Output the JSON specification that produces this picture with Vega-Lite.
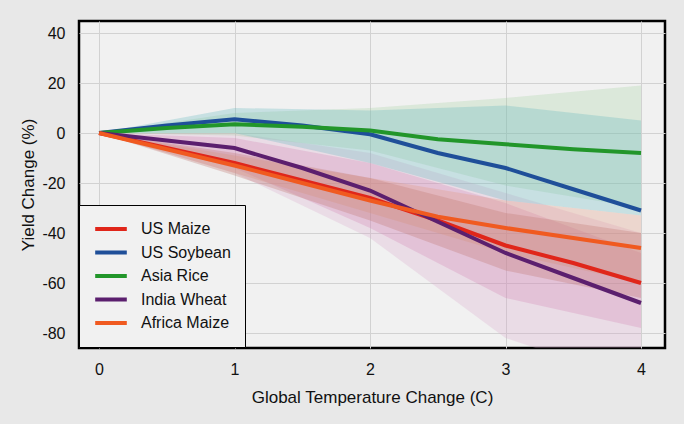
{
  "$schema": "https://vega.github.io/schema/vega-lite/v6.json",
  "autosize": "none",
  "width": 586,
  "height": 327,
  "padding": {"left": 79, "top": 21, "right": 19, "bottom": 76},
  "background": "#e8e8e8",
  "config": {
    "view": {"fill": "#f1f1f1", "stroke": "#000000", "strokeWidth": 2.5},
    "font": "Liberation Sans",
    "legend": {"strokeColor": "#000000", "fillColor": "#f1f1f1", "padding": 14}
  },
  "datasets": {
    "lines": [
      {"s": "US Maize", "t": 0, "y": 0}, {"s": "US Maize", "t": 0.5, "y": -6}, {"s": "US Maize", "t": 1, "y": -12}, {"s": "US Maize", "t": 1.5, "y": -19}, {"s": "US Maize", "t": 2, "y": -26}, {"s": "US Maize", "t": 2.5, "y": -35}, {"s": "US Maize", "t": 3, "y": -45}, {"s": "US Maize", "t": 3.5, "y": -52}, {"s": "US Maize", "t": 4, "y": -60},
      {"s": "US Soybean", "t": 0, "y": 0}, {"s": "US Soybean", "t": 0.5, "y": 3}, {"s": "US Soybean", "t": 1, "y": 5.5}, {"s": "US Soybean", "t": 1.5, "y": 3}, {"s": "US Soybean", "t": 2, "y": -0.5}, {"s": "US Soybean", "t": 2.5, "y": -8}, {"s": "US Soybean", "t": 3, "y": -14}, {"s": "US Soybean", "t": 3.5, "y": -22.5}, {"s": "US Soybean", "t": 4, "y": -31},
      {"s": "Asia Rice", "t": 0, "y": 0}, {"s": "Asia Rice", "t": 0.5, "y": 2}, {"s": "Asia Rice", "t": 1, "y": 3.5}, {"s": "Asia Rice", "t": 1.5, "y": 2.5}, {"s": "Asia Rice", "t": 2, "y": 1}, {"s": "Asia Rice", "t": 2.5, "y": -2.5}, {"s": "Asia Rice", "t": 3, "y": -4.5}, {"s": "Asia Rice", "t": 3.5, "y": -6.5}, {"s": "Asia Rice", "t": 4, "y": -8},
      {"s": "India Wheat", "t": 0, "y": 0}, {"s": "India Wheat", "t": 0.5, "y": -3}, {"s": "India Wheat", "t": 1, "y": -6}, {"s": "India Wheat", "t": 1.5, "y": -14}, {"s": "India Wheat", "t": 2, "y": -23}, {"s": "India Wheat", "t": 2.5, "y": -35.5}, {"s": "India Wheat", "t": 3, "y": -48}, {"s": "India Wheat", "t": 3.5, "y": -58}, {"s": "India Wheat", "t": 4, "y": -68},
      {"s": "Africa Maize", "t": 0, "y": 0}, {"s": "Africa Maize", "t": 0.5, "y": -6.5}, {"s": "Africa Maize", "t": 1, "y": -13}, {"s": "Africa Maize", "t": 1.5, "y": -20}, {"s": "Africa Maize", "t": 2, "y": -27}, {"s": "Africa Maize", "t": 2.5, "y": -33.5}, {"s": "Africa Maize", "t": 3, "y": -38}, {"s": "Africa Maize", "t": 3.5, "y": -42}, {"s": "Africa Maize", "t": 4, "y": -46}
    ],
    "bands": [
      {"b": "Wheat outer", "t": 0, "lo": 0, "hi": 0}, {"b": "Wheat outer", "t": 1, "lo": -16, "hi": 0}, {"b": "Wheat outer", "t": 2, "lo": -42, "hi": -8}, {"b": "Wheat outer", "t": 3, "lo": -82, "hi": -24}, {"b": "Wheat outer", "t": 4, "lo": -100, "hi": -40},
      {"b": "Wheat", "t": 0, "lo": 0, "hi": 0}, {"b": "Wheat", "t": 1, "lo": -14, "hi": -2}, {"b": "Wheat", "t": 2, "lo": -38, "hi": -12}, {"b": "Wheat", "t": 3, "lo": -66, "hi": -28}, {"b": "Wheat", "t": 4, "lo": -78, "hi": -48},
      {"b": "Rice", "t": 0, "lo": 0, "hi": 0}, {"b": "Rice", "t": 1, "lo": -1, "hi": 8}, {"b": "Rice", "t": 2, "lo": -7, "hi": 10}, {"b": "Rice", "t": 3, "lo": -21, "hi": 14}, {"b": "Rice", "t": 4, "lo": -30, "hi": 19},
      {"b": "Soybean", "t": 0, "lo": 0, "hi": 0}, {"b": "Soybean", "t": 1, "lo": 0, "hi": 10}, {"b": "Soybean", "t": 2, "lo": -12, "hi": 9}, {"b": "Soybean", "t": 3, "lo": -27, "hi": 11}, {"b": "Soybean", "t": 4, "lo": -33, "hi": 5},
      {"b": "Africa Maize", "t": 0, "lo": 0, "hi": 0}, {"b": "Africa Maize", "t": 1, "lo": -16, "hi": -9}, {"b": "Africa Maize", "t": 2, "lo": -32, "hi": -18}, {"b": "Africa Maize", "t": 3, "lo": -48, "hi": -27}, {"b": "Africa Maize", "t": 4, "lo": -60, "hi": -33},
      {"b": "US Maize", "t": 0, "lo": 0, "hi": 0}, {"b": "US Maize", "t": 1, "lo": -17, "hi": -8}, {"b": "US Maize", "t": 2, "lo": -35, "hi": -18}, {"b": "US Maize", "t": 3, "lo": -55, "hi": -32}, {"b": "US Maize", "t": 4, "lo": -66, "hi": -40}
    ]
  },
  "layer": [
    {
      "data": {"name": "bands"},
      "mark": {"type": "area", "clip": true},
      "encoding": {
        "x": {"field": "t", "type": "quantitative"},
        "y": {"field": "lo", "type": "quantitative"},
        "y2": {"field": "hi"},
        "color": {
          "field": "b", "type": "nominal", "legend": null,
          "scale": {
            "domain": ["Wheat outer", "Wheat", "Rice", "Soybean", "Africa Maize", "US Maize"],
            "range": ["#d8a0c8", "#d07aae", "#a1d19d", "#60b8bc", "#e09a80", "#c07874"]
          }
        },
        "opacity": {
          "field": "b", "type": "nominal", "legend": null,
          "scale": {
            "domain": ["Wheat outer", "Wheat", "Rice", "Soybean", "Africa Maize", "US Maize"],
            "range": [0.25, 0.32, 0.3, 0.35, 0.35, 0.3]
          }
        }
      }
    },
    {
      "data": {"name": "lines"},
      "mark": {"type": "line", "strokeWidth": 4, "clip": true},
      "encoding": {
        "x": {
          "field": "t", "type": "quantitative",
          "scale": {"domain": [-0.148, 4.177], "nice": false, "zero": false},
          "axis": {
            "values": [0, 1, 2, 3, 4],
            "labelExpr": "'' + datum.value",
            "title": "Global Temperature Change (C)",
            "domain": false, "ticks": false,
            "labelPadding": 13, "labelFontSize": 16, "labelColor": "#111111",
            "titleFontSize": 17, "titleFontWeight": "normal", "titleColor": "#111111", "titlePadding": 12,
            "gridColor": "#d2d2d2", "gridWidth": 1
          }
        },
        "y": {
          "field": "y", "type": "quantitative",
          "scale": {"domain": [-86, 44.8], "nice": false, "zero": false},
          "axis": {
            "values": [40, 20, 0, -20, -40, -60, -80],
            "labelExpr": "'' + datum.value",
            "title": "Yield Change (%)",
            "domain": false, "ticks": false,
            "labelPadding": 14, "labelFontSize": 16, "labelColor": "#111111",
            "titleFontSize": 17, "titleFontWeight": "normal", "titleColor": "#111111", "titlePadding": 4,
            "gridColor": "#d2d2d2", "gridWidth": 1
          }
        },
        "color": {
          "field": "s", "type": "nominal",
          "scale": {
            "domain": ["US Maize", "US Soybean", "Asia Rice", "India Wheat", "Africa Maize"],
            "range": ["#e0261a", "#1f4f99", "#22962a", "#5b1f6e", "#f05a20"]
          },
          "legend": {
            "title": null,
            "orient": "none",
            "legendX": 0,
            "legendY": 184,
            "symbolType": "stroke",
            "symbolSize": 1000,
            "symbolStrokeWidth": 4,
            "clipHeight": 20,
            "rowPadding": 3.5,
            "labelFontSize": 16,
            "labelColor": "#111111",
            "labelOffset": 12
          }
        }
      }
    }
  ],
  "resolve": {"scale": {"color": "independent"}}
}
